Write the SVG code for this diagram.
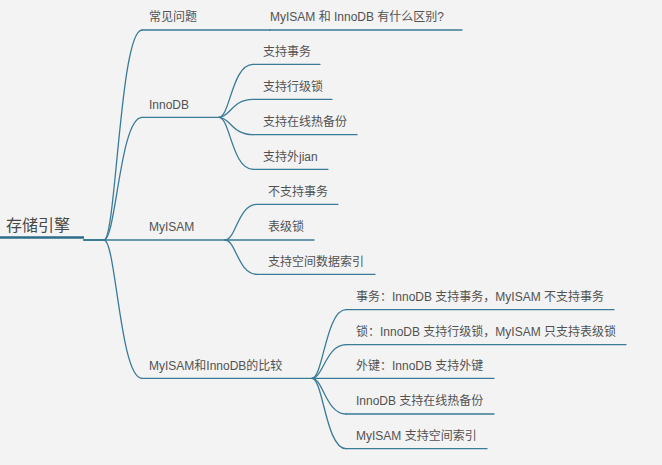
<svg xmlns="http://www.w3.org/2000/svg" width="662" height="465" viewBox="0 0 662 465">
<style>
.bg{fill:#f3f3f3}
.t{font-family:"Liberation Sans","Noto Sans CJK SC",sans-serif;font-size:12px;fill:#525252}
.root{font-family:"Liberation Sans","Noto Sans CJK SC",sans-serif;font-size:16px;fill:#474747}
.ln{fill:none;stroke:#3a7b98;stroke-width:1.3;stroke-linecap:round}
.rl{fill:none;stroke:#2d6d89;stroke-width:2.6}
</style>
<rect class="bg" x="0" y="0" width="662" height="465"/>
<g id="connectors">
  <path class="ln" d="M84,240 H104" style="stroke-width:2.2"/>
  <path class="ln" d="M104,240 C116,240 120,30 142,30"/>
  <path class="ln" d="M104,240 C116,240 120,117.3 142,117.3"/>
  <path class="ln" d="M104,240 C116,240 120,378.3 142,378.3"/>
  <path class="ln" d="M219,117.3 C230,117.3 232,64.3 253,64.3"/>
  <path class="ln" d="M219,117.3 C230,117.3 232,99.3 253,99.3"/>
  <path class="ln" d="M219,117.3 C230,117.3 232,134.7 253,134.7"/>
  <path class="ln" d="M219,117.3 C230,117.3 232,169.3 253,169.3"/>
  <path class="ln" d="M225,240 C236,240 238,204.3 257,204.3"/>
  <path class="ln" d="M225,240 C236,240 238,274.3 257,274.3"/>
  <path class="ln" d="M312,378.3 C323,378.3 326,309.7 346,309.7"/>
  <path class="ln" d="M312,378.3 C323,378.3 326,344.7 346,344.7"/>
  <path class="ln" d="M312,378.3 C323,378.3 326,414 346,414"/>
  <path class="ln" d="M312,378.3 C323,378.3 326,448.7 346,448.7"/>
</g>
<g id="root">
  <text class="root" x="6" y="231">存储引擎</text>
  <path class="rl" d="M0,237.5 H84"/>
</g>
<g id="faq">
  <text class="t" x="149" y="21">常见问题</text>
  <path class="ln" d="M142,30 H270"/>
</g>
<g id="faq-q">
  <text class="t" x="270" y="21">MyISAM 和 InnoDB 有什么区别?</text>
  <path class="ln" d="M270,30 H462"/>
</g>
<g id="innodb">
  <text class="t" x="149" y="108.5">InnoDB</text>
  <path class="ln" d="M142,117.3 H219"/>
</g>
<g id="innodb-1">
  <text class="t" x="263" y="55.5">支持事务</text>
  <path class="ln" d="M253,64.3 H320"/>
</g>
<g id="innodb-2">
  <text class="t" x="263" y="90.5">支持行级锁</text>
  <path class="ln" d="M253,99.3 H332"/>
</g>
<g id="innodb-3">
  <text class="t" x="263" y="126">支持在线热备份</text>
  <path class="ln" d="M253,134.7 H357"/>
</g>
<g id="innodb-4">
  <text class="t" x="263" y="160.5">支持外jian</text>
  <path class="ln" d="M253,169.3 H328"/>
</g>
<g id="myisam">
  <text class="t" x="149" y="231">MyISAM</text>
  <path class="ln" d="M104,240 H225"/>
</g>
<g id="myisam-1">
  <text class="t" x="268" y="195.5">不支持事务</text>
  <path class="ln" d="M257,204.3 H338"/>
</g>
<g id="myisam-2">
  <text class="t" x="268" y="231">表级锁</text>
  <path class="ln" d="M225,240 H314"/>
</g>
<g id="myisam-3">
  <text class="t" x="268" y="265.5">支持空间数据索引</text>
  <path class="ln" d="M257,274.3 H375"/>
</g>
<g id="compare">
  <text class="t" x="149" y="369.5">MyISAM和InnoDB的比较</text>
  <path class="ln" d="M142,378.3 H312"/>
</g>
<g id="compare-1">
  <text class="t" x="356" y="301">事务：InnoDB 支持事务，MyISAM 不支持事务</text>
  <path class="ln" d="M346,309.7 H614"/>
</g>
<g id="compare-2">
  <text class="t" x="356" y="336">锁：InnoDB 支持行级锁，MyISAM 只支持表级锁</text>
  <path class="ln" d="M346,344.7 H626"/>
</g>
<g id="compare-3">
  <text class="t" x="356" y="369.5">外键：InnoDB 支持外键</text>
  <path class="ln" d="M312,378.3 H494"/>
</g>
<g id="compare-4">
  <text class="t" x="356" y="405">InnoDB 支持在线热备份</text>
  <path class="ln" d="M346,414 H494"/>
</g>
<g id="compare-5">
  <text class="t" x="356" y="440">MyISAM 支持空间索引</text>
  <path class="ln" d="M346,448.7 H487"/>
</g>
</svg>
